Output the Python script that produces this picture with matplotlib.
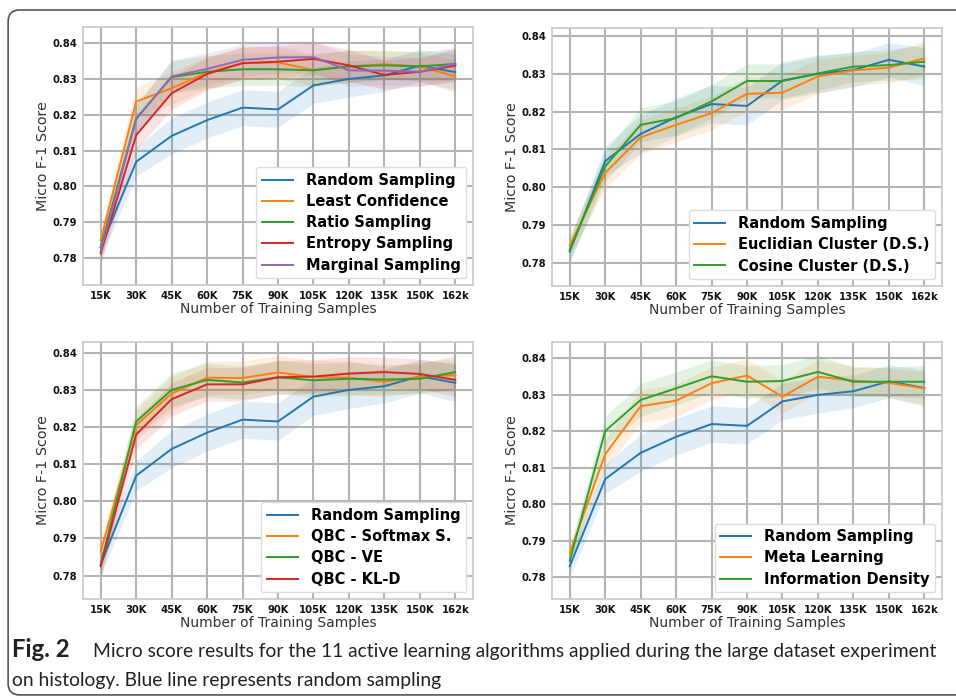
import numpy as np
import matplotlib
matplotlib.use("Agg")
import matplotlib.pyplot as plt
from matplotlib.patches import FancyBboxPatch

sizes = ["15K", "30K", "45K", "60K", "75K", "90K", "105K", "120K", "135K", "150K", "162k"]

random_sampling = [0.783, 0.8069, 0.8141, 0.8185, 0.8220, 0.8215, 0.8282, 0.8300, 0.8310, 0.8337, 0.8319]
random_std = [0.003, 0.004, 0.005, 0.005, 0.005, 0.005, 0.005, 0.005, 0.0045, 0.0045, 0.005]

# panel 1: uncertainty based
least_conf = [0.7850, 0.8237, 0.8274, 0.8318, 0.8344, 0.8346, 0.8325, 0.8335, 0.8341, 0.8335, 0.8307]
ratio_samp = [0.7830, 0.8190, 0.8305, 0.8320, 0.8327, 0.8327, 0.8324, 0.8335, 0.8338, 0.8335, 0.8342]
entropy_samp = [0.7814, 0.8143, 0.8260, 0.8314, 0.8344, 0.8348, 0.8356, 0.8338, 0.8311, 0.8320, 0.8337]
marginal_samp = [0.7820, 0.8187, 0.8307, 0.8328, 0.8353, 0.8360, 0.8361, 0.8324, 0.8323, 0.8320, 0.8342]

# panel 2: clustering
euclid_cluster = [0.7846, 0.8038, 0.8132, 0.8165, 0.8196, 0.8247, 0.8250, 0.8293, 0.8309, 0.8316, 0.8341]
cosine_cluster = [0.7835, 0.8055, 0.8165, 0.8183, 0.8227, 0.8281, 0.8281, 0.8301, 0.8319, 0.8323, 0.8332]

# panel 3: query by committee
qbc_softmax = [0.7865, 0.8205, 0.8290, 0.8333, 0.8332, 0.8347, 0.8335, 0.8333, 0.8322, 0.8335, 0.8340]
qbc_ve = [0.7830, 0.8215, 0.8300, 0.8327, 0.8320, 0.8334, 0.8326, 0.8330, 0.8328, 0.8330, 0.8348]
qbc_kld = [0.7825, 0.8180, 0.8275, 0.8315, 0.8315, 0.8334, 0.8336, 0.8344, 0.8348, 0.8343, 0.8327]

# panel 4: meta learning / density
meta_learning = [0.7866, 0.8137, 0.8269, 0.8284, 0.8332, 0.8353, 0.8295, 0.8350, 0.8339, 0.8333, 0.8318]
info_density = [0.7845, 0.8201, 0.8286, 0.8318, 0.8351, 0.8336, 0.8338, 0.8363, 0.8336, 0.8336, 0.8336]

al_std = [0.003, 0.004, 0.0045, 0.0045, 0.0045, 0.0045, 0.0045, 0.0045, 0.004, 0.004, 0.0045]

colors = ["#1f77b4", "#ff7f0e", "#2ca02c", "#d62728", "#9467bd"]

panels = [
    ([0.0868, 0.5911, 0.408, 0.3702], (0.7725, 0.8445),
     [("Random Sampling", random_sampling), ("Least Confidence", least_conf),
      ("Ratio Sampling", ratio_samp), ("Entropy Sampling", entropy_samp),
      ("Marginal Sampling", marginal_samp)]),
    ([0.5774, 0.5897, 0.408, 0.3701], (0.7739, 0.8421),
     [("Random Sampling", random_sampling), ("Euclidian Cluster (D.S.)", euclid_cluster),
      ("Cosine Cluster (D.S.)", cosine_cluster)]),
    ([0.0868, 0.1406, 0.408, 0.3687], (0.7737, 0.8429),
     [("Random Sampling", random_sampling), ("QBC - Softmax S.", qbc_softmax),
      ("QBC - VE", qbc_ve), ("QBC - KL-D", qbc_kld)]),
    ([0.5774, 0.1406, 0.408, 0.3687], (0.7740, 0.8445),
     [("Random Sampling", random_sampling), ("Meta Learning", meta_learning),
      ("Information Density", info_density)]),
]

fig = plt.figure(figsize=(9.56, 6.97), dpi=100)

# rounded frame, only the left side and top are visible
frame = FancyBboxPatch((0.0085, 0.003), 2.0, 0.9827, boxstyle="round,pad=0,rounding_size=0.012",
                       transform=fig.transFigure, facecolor="none", edgecolor="#555555",
                       linewidth=1.2, mutation_aspect=956 / 697, clip_on=False)
fig.patches.append(frame)

x = np.arange(len(sizes))

for rect, ylim, series in panels:
    ax = fig.add_axes(rect)
    for i, (name, vals) in enumerate(series):
        vals = np.array(vals)
        sd = np.array(random_std if i == 0 else al_std)
        ax.fill_between(x, vals - sd, vals + sd, color=colors[i], alpha=0.13, linewidth=0)
        ax.plot(x, vals, color=colors[i], linewidth=1.4, label=name)
    ax.set_xlim(-0.5, 10.5)
    ax.set_ylim(*ylim)
    ax.set_xticks(x)
    ax.set_xticklabels(sizes)
    ax.set_yticks([0.78, 0.79, 0.80, 0.81, 0.82, 0.83, 0.84])
    ax.set_yticklabels(["0.78", "0.79", "0.80", "0.81", "0.82", "0.83", "0.84"])
    for lab in ax.get_xticklabels() + ax.get_yticklabels():
        lab.set_fontweight("bold")
        lab.set_fontsize(7.2)
        lab.set_color("#111111")
    ax.tick_params(length=0, pad=4)
    ax.grid(True, color="#b4b4b4", linewidth=1.5)
    ax.set_axisbelow(True)
    for s in ax.spines.values():
        s.set_color("#c8c8c8")
        s.set_linewidth(1.2)
    ax.set_xlabel("Number of Training Samples", fontsize=10, color="#333333", labelpad=1)
    ax.set_ylabel("Micro F-1 Score", fontsize=10.3, color="#333333", labelpad=2)
    leg = ax.legend(loc="lower right", prop={"weight": "bold", "size": 10.5},
                    handlelength=2.1, handletextpad=0.9, borderaxespad=0.45,
                    labelspacing=0.42, fancybox=True, framealpha=1,
                    edgecolor="#dddddd", shadow=False)
    leg.get_frame().set_linewidth(1.0)

cap_font = "Lato"
t_fig = fig.text(0.0125, 1 - 657 / 697, "Fig. 2", fontsize=13, fontweight="bold", family=cap_font,
                 va="baseline", color="#222222")
t_line1 = fig.text(0.097, 1 - 657 / 697,
                   "Micro score results for the 11 active learning algorithms applied during the large dataset experiment",
                   fontsize=13, family=cap_font, va="baseline", color="#222222")
t_line2 = fig.text(0.0125, 1 - 686 / 697, "on histology. Blue line represents random sampling",
                   fontsize=13, family=cap_font, va="baseline", color="#222222")

# scale the caption so its first line spans the same width as in the figure
renderer = fig.canvas.get_renderer()
w = t_line1.get_window_extent(renderer).width
scale = 842 / w
for t in (t_line1, t_line2):
    t.set_fontsize(13 * scale)
t_fig.set_fontsize(13 * scale * 1.25)

fig.savefig("out.png", dpi=100)
